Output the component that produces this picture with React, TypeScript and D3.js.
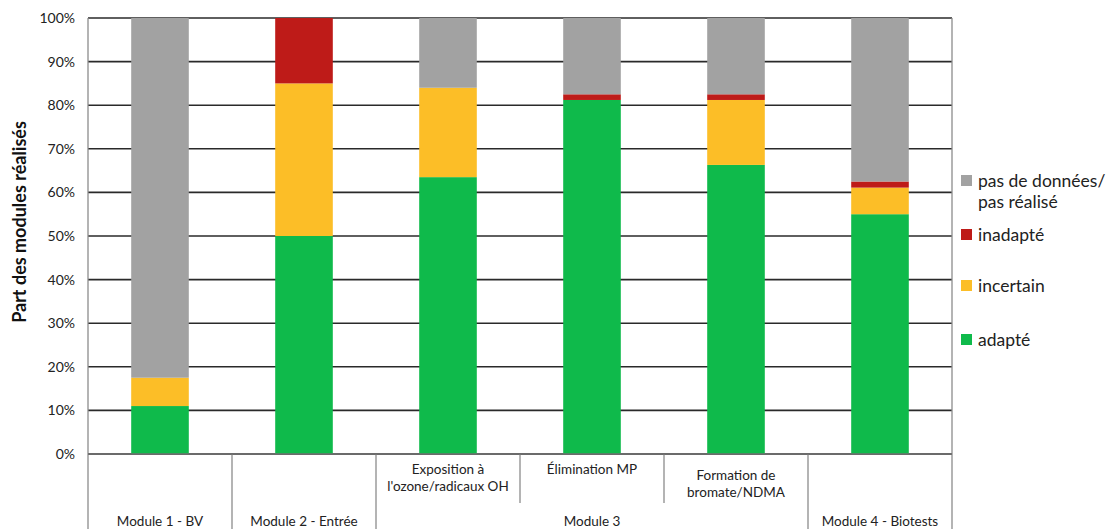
import React, { useEffect, useRef } from 'react';
import * as d3 from 'd3';

// categories (one per bar)
const categories = ['m1', 'm2', 'expo', 'elim', 'form', 'm4'];
const barLabels = ['', '', 'Exposition à\nl\'ozone/radicaux OH', 'Élimination MP', 'Formation de\nbromate/NDMA', ''];
const groups = [
  { label: 'Module 1 - BV', from: 0, to: 0 },
  { label: 'Module 2 - Entrée', from: 1, to: 1 },
  { label: 'Module 3', from: 2, to: 4 },
  { label: 'Module 4 - Biotests', from: 5, to: 5 },
];

// series values (%)
const adapte = [11, 50, 63.5, 81.2, 66.3, 55];
const incertain = [6.5, 35, 20.5, 0, 14.9, 6.1];
const inadapte = [0, 15, 0, 1.3, 1.3, 1.4];
const pasDeDonnees = [82.5, 0, 16, 17.5, 17.5, 37.5];

const seriesKeys = ['adapte', 'incertain', 'inadapte', 'gris'];
const seriesColors: Record<string, string> = {
  adapte: '#0fba4b',
  incertain: '#fcbe27',
  inadapte: '#be1b18',
  gris: '#a2a2a2',
};
const legendItems = [
  { key: 'gris', lines: ['pas de données/', 'pas réalisé'], y: 187 },
  { key: 'inadapte', lines: ['inadapté'], y: 241 },
  { key: 'incertain', lines: ['incertain'], y: 292 },
  { key: 'adapte', lines: ['adapté'], y: 346 },
];

const yTicks = [0, 10, 20, 30, 40, 50, 60, 70, 80, 90, 100];

const W = 1120;
const H = 529;
const margin = { top: 18, left: 88, right: 168, bottom: 75 };
const FONT = 'Lato, "Open Sans", sans-serif';

export default function App() {
  const svgRef = useRef<SVGSVGElement>(null);

  useEffect(() => {
    if (!svgRef.current) return;
    const svg = d3.select(svgRef.current);
    svg.selectAll('*').remove();

    const x0 = margin.left;
    const x1 = W - margin.right;
    const yBottom = H - margin.bottom;

    const x = d3.scaleBand().domain(categories).range([x0, x1]).paddingInner(0.6).paddingOuter(0.3);
    const y = d3.scaleLinear().domain([0, 100]).range([yBottom, margin.top]);

    const rows = categories.map((c, i) => ({
      cat: c,
      adapte: adapte[i],
      incertain: incertain[i],
      inadapte: inadapte[i],
      gris: pasDeDonnees[i],
    }));
    const stacked = d3.stack<any>().keys(seriesKeys)(rows);

    // gridlines
    svg.append('g')
      .selectAll('line')
      .data(yTicks)
      .join('line')
      .attr('x1', x0)
      .attr('x2', x1)
      .attr('y1', (d) => y(d))
      .attr('y2', (d) => y(d))
      .attr('stroke', '#2a2a2a')
      .attr('stroke-width', 1.6);

    // bars
    svg.append('g')
      .selectAll('g')
      .data(stacked)
      .join('g')
      .attr('fill', (s) => seriesColors[s.key])
      .selectAll('rect')
      .data((s) => s)
      .join('rect')
      .attr('x', (d: any) => x(d.data.cat) as number)
      .attr('width', x.bandwidth())
      .attr('y', (d) => y(d[1]))
      .attr('height', (d) => y(d[0]) - y(d[1]));

    // y axis labels
    const yAxis = svg.append('g')
      .attr('transform', `translate(${x0},0)`)
      .call(d3.axisLeft(y).tickValues(yTicks).tickFormat((d) => `${d}%`).tickSize(0).tickPadding(13));
    yAxis.select('.domain').remove();
    yAxis.selectAll('text')
      .attr('font-family', FONT)
      .attr('font-size', 14)
      .attr('fill', '#222');

    // frame lines
    const step = x.step();
    const frame = svg.append('g').attr('stroke', '#8c8c8c').attr('stroke-width', 1.3);
    frame.append('line').attr('x1', x0).attr('x2', x0).attr('y1', margin.top).attr('y2', H);
    frame.append('line').attr('x1', x1).attr('x2', x1).attr('y1', margin.top).attr('y2', H);
    // category separators
    categories.forEach((c, i) => {
      if (i === 0) return;
      const sx = x0 + step * i;
      const inGroup = groups.some((g) => i > g.from && i <= g.to);
      frame.append('line')
        .attr('x1', sx).attr('x2', sx)
        .attr('y1', yBottom).attr('y2', inGroup ? 503 : H);
    });

    // bottom axis line
    svg.append('line')
      .attr('x1', x0).attr('x2', x1)
      .attr('y1', yBottom).attr('y2', yBottom)
      .attr('stroke', '#6f6f6f').attr('stroke-width', 1.3);

    // per-bar labels
    const lab = svg.append('g').attr('font-family', FONT).attr('font-size', 13.5).attr('fill', '#222').attr('text-anchor', 'middle');
    barLabels.forEach((t, i) => {
      if (!t) return;
      const cx = (x(categories[i]) as number) + x.bandwidth() / 2;
      const lines = t.split('\n');
      const topY = lines.length === 1 ? 474 : (i === 2 ? 474 : 480);
      lines.forEach((ln, k) => {
        lab.append('text').attr('x', cx).attr('y', topY + k * 17).text(ln);
      });
    });

    // group labels
    groups.forEach((g) => {
      const gx0 = x0 + step * g.from;
      const gx1 = x0 + step * (g.to + 1);
      lab.append('text').attr('x', (gx0 + gx1) / 2).attr('y', 526).text(g.label);
    });

    // y title
    svg.append('text')
      .attr('transform', `translate(26,${(margin.top + yBottom) / 2 - 14}) rotate(-90)`)
      .attr('text-anchor', 'middle')
      .attr('font-family', FONT)
      .attr('font-weight', 'bold')
      .attr('font-size', 18)
      .attr('fill', '#111')
      .text('Part des modules réalisés');

    // legend
    const leg = svg.append('g').attr('font-family', FONT).attr('font-size', 17.5).attr('fill', '#222');
    legendItems.forEach((it) => {
      leg.append('rect')
        .attr('x', 961).attr('y', it.y - 12)
        .attr('width', 11).attr('height', 11)
        .attr('fill', seriesColors[it.key]);
      it.lines.forEach((ln, k) => {
        leg.append('text').attr('x', 978).attr('y', it.y + k * 21).text(ln);
      });
    });
  }, []);

  return (
    <svg
      ref={svgRef}
      width={W}
      height={H}
      style={{ position: 'absolute', left: 0, top: 0, background: '#fff' }}
    />
  );
}
